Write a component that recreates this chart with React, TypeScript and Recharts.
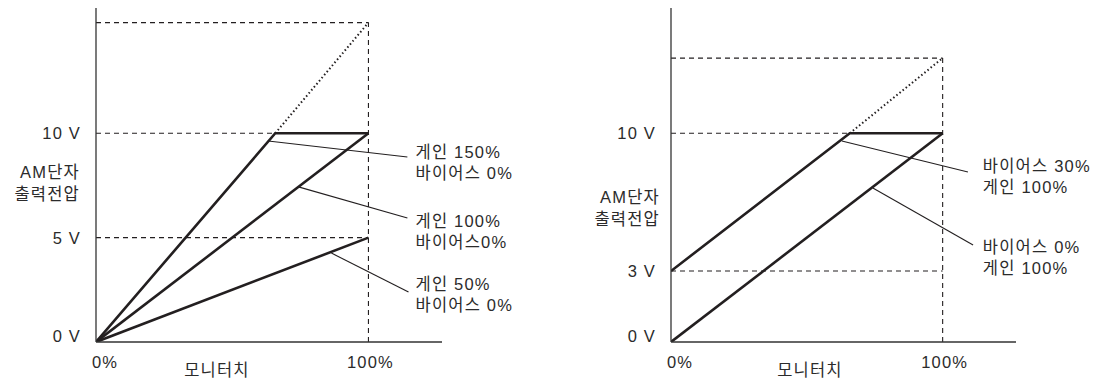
import React from 'react';
import { LineChart, Line, XAxis, YAxis, ReferenceLine, ReferenceDot } from 'recharts';

// ---- data ----
const xTicks = [0, 100];
const xTickLabels = ['0%', '100%'];
const xTitle = '모니터치';
const yTitle = ['AM단자', '출력전압'];

const leftYTicks = [0, 5, 10];
const leftYTickLabels = ['0 V', '5 V', '10 V'];
const rightYTicks = [0, 3.4, 10];
const rightYTickLabels = ['0 V', '3 V', '10 V'];

// left panel series (monitor % -> output V)
const gain150 = [{ x: 0, y: 0 }, { x: 65.8, y: 10 }, { x: 100, y: 10 }];
const gain150Ext = [{ x: 65.8, y: 10 }, { x: 100, y: 15.3 }];
const gain100 = [{ x: 0, y: 0 }, { x: 100, y: 10 }];
const gain50 = [{ x: 0, y: 0 }, { x: 100, y: 5 }];

// right panel series
const bias30 = [{ x: 0, y: 3.4 }, { x: 65.8, y: 10 }, { x: 100, y: 10 }];
const bias30Ext = [{ x: 65.8, y: 10 }, { x: 100, y: 13.6 }];
const bias0 = [{ x: 0, y: 0 }, { x: 100, y: 10 }];

// guide (dashed) levels
const leftGuides = [15.3, 10, 5];
const rightGuides = [13.6, 10, 3.4];

// annotation leaders [from, to]
const leftLeaders = [
  [{ x: 63.2, y: 9.63 }, { x: 114.3, y: 8.86 }],
  [{ x: 74.3, y: 7.43 }, { x: 114.3, y: 5.94 }],
  [{ x: 86.4, y: 4.26 }, { x: 114.7, y: 2.4 }],
];
const rightLeaders = [
  [{ x: 62.9, y: 9.63 }, { x: 109.3, y: 8.14 }],
  [{ x: 74.3, y: 7.38 }, { x: 111.2, y: 4.65 }],
];
const leftNotes = [
  { x: 117.3, y: 8.81, lines: ['게인 150%', '바이어스 0%'] },
  { x: 117.3, y: 5.51, lines: ['게인 100%', '바이어스0%'] },
  { x: 117.3, y: 2.49, lines: ['게인 50%', '바이어스 0%'] },
];
const rightNotes = [
  { x: 114.8, y: 8.14, lines: ['바이어스 30%', '게인 100%'] },
  { x: 114.8, y: 4.26, lines: ['바이어스 0%', '게인 100%'] },
];

// ---- styles ----
const FONT = "'Liberation Sans', Arial, Helvetica, 'Noto Sans CJK KR', sans-serif";
const TXT = '#2b2b2b';
const INK = '#231f20';
const tp = { fontFamily: FONT, fontSize: 16.5, letterSpacing: 1.2, fill: TXT };

type Pt = { x: number; y: number };

function Panel(p: any) {
  const top = p.guides[0];
  const XTick = (props: any) => {
    const v = props.payload.value;
    const i = xTicks.indexOf(v);
    return (
      <text x={props.x + (v === 0 ? 9 : 2)} y={props.y + 26} textAnchor="middle" {...tp}>
        {xTickLabels[i]}
      </text>
    );
  };
  const YTick = (props: any) => {
    const v = props.payload.value;
    const i = p.yTicks.indexOf(v);
    return (
      <text x={props.x} y={props.y + (v === 0 ? -0.5 : 6)} textAnchor="end" {...tp}>
        {p.yLabels[i]}
      </text>
    );
  };
  const YTitle = (props: any) => {
    const vb = props.viewBox;
    const xr = vb.x + vb.width - p.yTitleDx;
    return (
      <text textAnchor="end" {...tp}>
        <tspan x={xr} y={vb.y + p.yTitleDy}>{yTitle[0]}</tspan>
        <tspan x={xr} y={vb.y + p.yTitleDy + 22}>{yTitle[1]}</tspan>
      </text>
    );
  };
  const XTitle = (props: any) => {
    const vb = props.viewBox;
    return (
      <text x={vb.x + p.xTitleDx} y={vb.y + 34} textAnchor="middle" {...tp}>
        {xTitle}
      </text>
    );
  };
  return (
    <div style={{ position: 'absolute', left: p.left, top: 0 }}>
      <LineChart width={553} height={382} margin={{ top: 8, left: p.marginLeft, right: p.marginRight, bottom: 0 }}>
        <XAxis type="number" dataKey="x" domain={[0, 127]} ticks={xTicks} tick={XTick} tickLine={false}
          tickSize={0} tickMargin={0} height={40} axisLine={{ stroke: '#333', strokeWidth: 1.3 }}
          allowDataOverflow label={{ content: XTitle }} />
        <YAxis type="number" dataKey="y" domain={[0, 16]} ticks={p.yTicks} tick={YTick} tickLine={false}
          tickSize={0} tickMargin={15} width={60} axisLine={{ stroke: '#333', strokeWidth: 1.3 }}
          allowDataOverflow label={{ content: YTitle }} />
        {p.guides.map((g: number, i: number) => (
          <ReferenceLine key={'g' + i} segment={[{ x: 0, y: g }, { x: 100, y: g }]} stroke={INK}
            strokeWidth={1.1} strokeDasharray="5 4" />
        ))}
        <ReferenceLine segment={[{ x: 100, y: 0 }, { x: 100, y: top }]} stroke={INK} strokeWidth={1.1}
          strokeDasharray="5 4" />
        {p.leaders.map((seg: Pt[], i: number) => (
          <ReferenceLine key={'l' + i} segment={seg} stroke={INK} strokeWidth={1.1} />
        ))}
        <Line data={p.dotted} dataKey="y" type="linear" stroke={INK} strokeWidth={2} strokeDasharray="1.5 2.5"
          dot={false} activeDot={false} isAnimationActive={false} />
        {p.solid.map((d: Pt[], i: number) => (
          <Line key={'s' + i} data={d} dataKey="y" type="linear" stroke={INK} strokeWidth={2.6}
            dot={false} activeDot={false} isAnimationActive={false} />
        ))}
        {p.notes.map((n: any, i: number) => (
          <ReferenceDot key={'n' + i} x={n.x} y={n.y} r={0} ifOverflow="visible"
            shape={(sp: any) => (
              <text textAnchor="start" {...tp}>
                <tspan x={sp.cx} y={sp.cy}>{n.lines[0]}</tspan>
                <tspan x={sp.cx} y={sp.cy + 21}>{n.lines[1]}</tspan>
              </text>
            )} />
        ))}
      </LineChart>
    </div>
  );
}

export default function App() {
  return (
    <div style={{ position: 'absolute', left: 0, top: 0, width: 1106, height: 382, background: '#fff' }}>
      <Panel left={0} marginLeft={36} marginRight={111} yTicks={leftYTicks} yLabels={leftYTickLabels}
        solid={[gain150, gain100, gain50]} dotted={gain150Ext} guides={leftGuides} leaders={leftLeaders}
        notes={leftNotes} yTitleDx={16} yTitleDy={170} xTitleDx={121} />
      <Panel left={553} marginLeft={58} marginRight={90} yTicks={rightYTicks} yLabels={rightYTickLabels}
        solid={[bias30, bias0]} dotted={bias30Ext} guides={rightGuides} leaders={rightLeaders}
        notes={rightNotes} yTitleDx={11} yTitleDy={195} xTitleDx={139} />
    </div>
  );
}
